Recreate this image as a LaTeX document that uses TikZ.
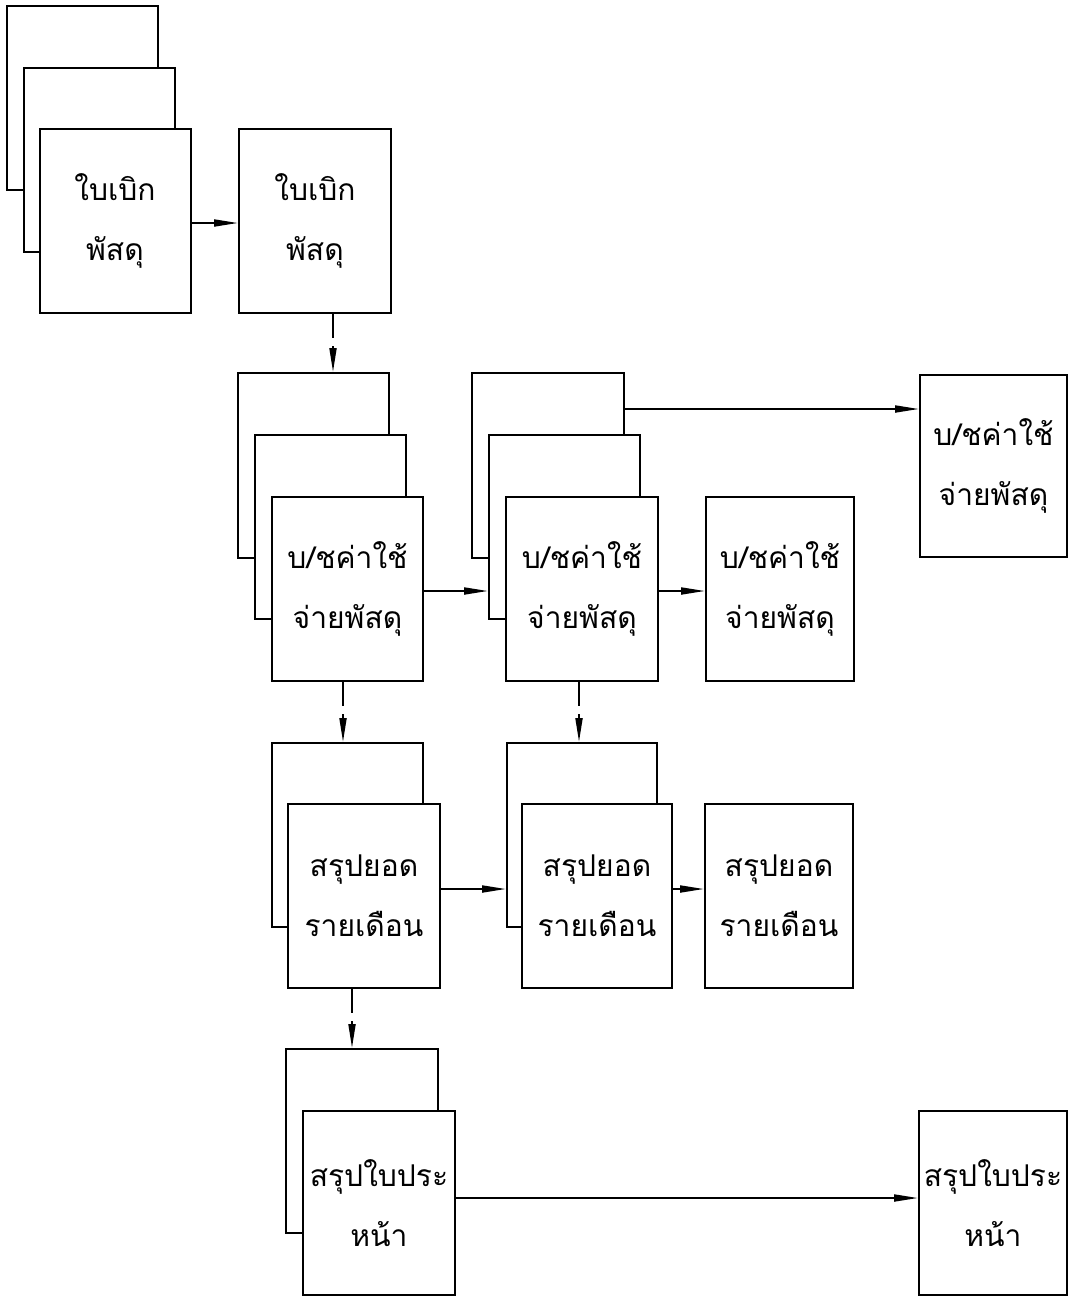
\documentclass[tikz,border=0pt]{standalone}
\usepackage{fontspec}
\newfontfamily\thaifont[Script=Thai]{Loma}
\usetikzlibrary{arrows.meta}
\begin{document}
\begin{tikzpicture}[x=1pt,y=-1pt,
  sheet/.style={draw, fill=white, line width=2pt, inner sep=0pt,
    minimum width=151pt, minimum height=184pt, align=center,
    font=\thaifont\fontsize{30}{60}\selectfont},
  flow/.style={line width=1.9pt, -{Triangle[length=24pt,width=7pt]}},
  dashflow/.style={flow, dash pattern=on 24pt off 8pt}]
% page
\fill[white] (0,0) rectangle (1068,1301);
\useasboundingbox (0,0) rectangle (1068,1301);

% requisition forms
\node[sheet] (t1) at (82.5,98) {};
\node[sheet] (t2) at (99.5,160) {};
\node[sheet] (t3) at (115,221) {ใบเบิก\\พัสดุ};
\node[sheet, minimum width=152pt] (t4) at (315,221) {ใบเบิก\\พัสดุ};

% issue vouchers
\node[sheet, minimum height=185pt] (m1a) at (313.5,465.5) {};
\node[sheet] (m1b) at (330.5,527) {};
\node[sheet] (m1c) at (347.5,589) {บ/ชค่าใช้\\จ่ายพัสดุ};
\node[sheet, minimum width=152pt, minimum height=185pt] (m2a) at (548,465.5) {};
\node[sheet] (m2b) at (564.5,527) {};
\node[sheet, minimum width=152pt] (m2c) at (582,589) {บ/ชค่าใช้\\จ่ายพัสดุ};
\node[sheet, minimum width=148pt] (m3) at (780,589) {บ/ชค่าใช้\\จ่ายพัสดุ};
\node[sheet, minimum width=147pt, minimum height=182pt] (r1) at (993.5,466) {บ/ชค่าใช้\\จ่ายพัสดุ};

% monthly summaries
\node[sheet] (sa1) at (347.5,835) {};
\node[sheet, minimum width=152pt] (sa2) at (364,896) {สรุปยอด\\รายเดือน};
\node[sheet, minimum width=150pt] (sb1) at (582,835) {};
\node[sheet, minimum width=150pt] (sb2) at (597,896) {สรุปยอด\\รายเดือน};
\node[sheet, minimum width=148pt] (sc) at (779,896) {สรุปยอด\\รายเดือน};

% page summaries
\node[sheet, minimum width=152pt] (p1) at (362,1141) {};
\node[sheet, minimum width=152pt] (p2) at (379,1203) {สรุปใบประ\\หน้า};
\node[sheet, minimum width=148pt] (pe) at (993,1203) {สรุปใบประ\\หน้า};

% solid flows
\draw[flow] ([yshift=-2pt]t3.east) -- ([yshift=-2pt]t3.east -| t4.west);
\draw[flow] ([yshift=-2pt]m1c.east) -- ([yshift=-2pt]m1c.east -| m2b.west);
\draw[flow] ([yshift=-2pt]m2c.east) -- ([yshift=-2pt]m2c.east -| m3.west);
\draw[flow] ([yshift=56.5pt]m2a.east) -- ([yshift=56.5pt]m2a.east -| r1.west);
\draw[flow] ([yshift=7pt]sa2.east) -- ([yshift=7pt]sa2.east -| sb1.west);
\draw[flow] ([yshift=7pt]sb2.east) -- ([yshift=7pt]sb2.east -| sc.west);
\draw[flow] ([yshift=5pt]p2.east) -- ([yshift=5pt]p2.east -| pe.west);

% dashed flows
\draw[dashflow] ([xshift=18pt]t4.south) -- ([xshift=18pt]t4.south |- m1a.north);
\draw[dashflow] ([xshift=-4.5pt]m1c.south) -- ([xshift=-4.5pt]m1c.south |- sa1.north);
\draw[dashflow] ([xshift=-3pt]m2c.south) -- ([xshift=-3pt]m2c.south |- sb1.north);
\draw[dashflow] ([xshift=-12pt]sa2.south) -- ([xshift=-12pt]sa2.south |- p1.north);
\end{tikzpicture}
\end{document}
